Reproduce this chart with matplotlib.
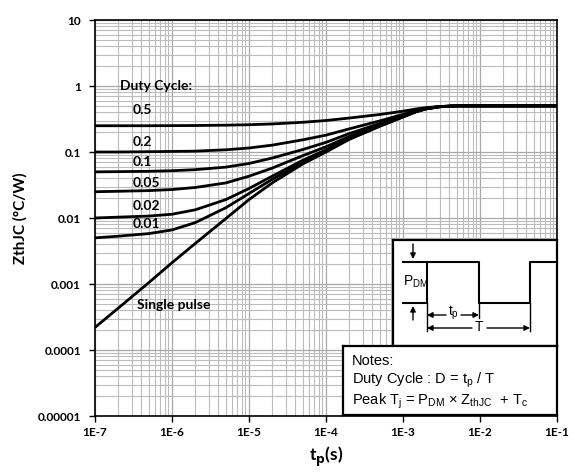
import numpy as np
import matplotlib.pyplot as plt
from matplotlib.ticker import LogLocator, FixedLocator, NullFormatter

# pulse width (s) sample points
tp = [1e-7, 2e-7, 5e-7, 1e-6, 2e-6, 5e-6, 1e-5, 2e-5, 5e-5, 1e-4,
      2e-4, 5e-4, 1e-3, 1.5e-3, 2e-3, 3e-3, 5e-3, 1e-2, 1e-1]

# ZthJC (C/W) for each duty cycle, read at the tp points above
z_d50 = [0.25, 0.25, 0.25, 0.251, 0.252, 0.255, 0.259, 0.266, 0.282, 0.30,
         0.327, 0.37, 0.415, 0.45, 0.47, 0.49, 0.50, 0.50, 0.50]
z_d20 = [0.10, 0.10, 0.101, 0.102, 0.103, 0.108, 0.115, 0.127, 0.153, 0.18,
         0.224, 0.296, 0.372, 0.428, 0.46, 0.488, 0.50, 0.50, 0.50]
z_d10 = [0.05, 0.0504, 0.051, 0.052, 0.054, 0.059, 0.067, 0.081, 0.109, 0.14,
         0.19, 0.27, 0.356, 0.42, 0.455, 0.487, 0.50, 0.50, 0.50]
z_d05 = [0.025, 0.0254, 0.026, 0.027, 0.029, 0.034, 0.043, 0.057, 0.088, 0.12,
         0.172, 0.258, 0.348, 0.415, 0.453, 0.486, 0.50, 0.50, 0.50]
z_d02 = [0.01, 0.0103, 0.0107, 0.0114, 0.0133, 0.019, 0.028, 0.043, 0.075, 0.108,
         0.162, 0.25, 0.343, 0.412, 0.451, 0.485, 0.50, 0.50, 0.50]
z_d01 = [0.005, 0.0053, 0.0058, 0.0066, 0.0085, 0.0143, 0.0235, 0.0385, 0.07, 0.104,
         0.158, 0.248, 0.34, 0.41, 0.45, 0.485, 0.50, 0.50, 0.50]
z_single = [2.2e-4, 4.3e-4, 1.05e-3, 2.1e-3, 4.1e-3, 9.8e-3, 0.019, 0.034, 0.066, 0.10,
            0.155, 0.245, 0.34, 0.41, 0.45, 0.485, 0.50, 0.50, 0.50]

curves = [z_d50, z_d20, z_d10, z_d05, z_d02, z_d01, z_single]

# curve labels and where they sit (data coords)
labels = ["0.5", "0.2", "0.1", "0.05", "0.02", "0.01"]
label_y = [0.43, 0.14, 0.071, 0.034, 0.015, 0.0081]

x_ticks = [1e-7, 1e-6, 1e-5, 1e-4, 1e-3, 1e-2, 1e-1]
x_ticklabels = ["1E-7", "1E-6", "1E-5", "1E-4", "1E-3", "1E-2", "1E-1"]
y_ticks = [1e-5, 1e-4, 1e-3, 1e-2, 1e-1, 1, 10]
y_ticklabels = ["0.00001", "0.0001", "0.001", "0.01", "0.1", "1", "10"]

W, H = 575, 476
fig = plt.figure(figsize=(W / 100, H / 100), dpi=100)
ax = fig.add_axes([95 / W, 1 - 416 / H, 462 / W, 396 / H])

for z in curves:
    ax.plot(tp, z, color="black", lw=2.0, solid_capstyle="butt", zorder=3)

ax.set_xscale("log")
ax.set_yscale("log")
ax.set_xlim(1e-7, 1e-1)
ax.set_ylim(1e-5, 10)

ax.xaxis.set_major_locator(FixedLocator(x_ticks))
ax.yaxis.set_major_locator(FixedLocator(y_ticks))
ax.xaxis.set_minor_locator(LogLocator(base=10, subs=np.arange(2, 10), numticks=20))
ax.yaxis.set_minor_locator(LogLocator(base=10, subs=np.arange(2, 10), numticks=20))
ax.xaxis.set_minor_formatter(NullFormatter())
ax.yaxis.set_minor_formatter(NullFormatter())

tick_font = dict(family="Lato", weight="bold", size=8.5)
ax.set_xticklabels(x_ticklabels, **tick_font)
ax.set_yticklabels(y_ticklabels, **tick_font)
ax.tick_params(which="major", direction="out", length=4, width=1, pad=6)
ax.tick_params(axis="x", which="major", pad=4)
ax.tick_params(which="minor", length=0)

ax.grid(which="major", color="#a8a8a8", lw=0.9)
ax.grid(which="minor", color="#bcbcbc", lw=0.8)
ax.set_axisbelow(True)
for s in ax.spines.values():
    s.set_linewidth(1.2)

ax.set_xlabel("t$_\\mathbf{p}$(s)", family="Lato", weight="bold", size=12.5, labelpad=5)
ax.set_ylabel("ZthJC (°C/W)", family="Lato", weight="bold", size=11, labelpad=7)

lab_font = dict(family="Lato", weight="bold", size=10)
ax.text(2.1e-7, 1.0, "Duty Cycle:", va="center", ha="left", **lab_font)
for lab, y in zip(labels, label_y):
    ax.text(3.1e-7, y, lab, va="center", ha="left", **lab_font)
ax.text(3.5e-7, 4.8e-4, "Single pulse", va="center", ha="left", **lab_font)

# pulse schematic box (pixel coords of the figure)
aw = fig.add_axes([393 / W, 1 - 346 / H, 164 / W, 106 / H], zorder=5)
aw.set_xlim(393, 557)
aw.set_ylim(346, 240)
aw.set_xticks([])
aw.set_yticks([])
for s in aw.spines.values():
    s.set_linewidth(1.6)

wave_x = [403, 427, 427, 479, 479, 530, 530, 557]
wave_y = [303, 303, 262, 262, 303, 303, 262, 262]
aw.plot(wave_x, wave_y, color="black", lw=1.5)
aw.plot([403, 427], [262, 262], color="black", lw=1.5)
for xv, y1 in [(427, 331), (479, 318), (530, 331)]:
    aw.plot([xv, xv], [303, y1], color="black", lw=1.0)

arr = dict(arrowstyle="-|>", color="black", lw=1.0, mutation_scale=8, shrinkA=0, shrinkB=0)
aw.annotate("", xy=(413, 259), xytext=(413, 244), arrowprops=arr)
aw.annotate("", xy=(413, 306), xytext=(413, 320), arrowprops=arr)
aw.annotate("", xy=(427, 315), xytext=(446, 315), arrowprops=arr)
aw.annotate("", xy=(479, 315), xytext=(461, 315), arrowprops=arr)
aw.annotate("", xy=(427, 328), xytext=(472, 328), arrowprops=arr)
aw.annotate("", xy=(530, 328), xytext=(487, 328), arrowprops=arr)

sch_font = dict(family="Liberation Sans", size=10)
aw.text(403, 282, "P$_{\\mathregular{DM}}$", va="center", ha="left", **sch_font)
aw.text(453, 313, "t$_{\\mathregular{p}}$", va="center", ha="center", **sch_font)
aw.text(479, 327, "T", va="center", ha="center", **sch_font)

# notes box
an = fig.add_axes([343 / W, 1 - 415 / H, 214 / W, 69 / H], zorder=6)
an.set_xticks([])
an.set_yticks([])
for s in an.spines.values():
    s.set_linewidth(1.6)
note_font = dict(family="Liberation Sans", size=10.5)
an.text(0.04, 0.78, "Notes:", transform=an.transAxes, va="center", **note_font)
an.text(0.04, 0.50, "Duty Cycle : D = t$_{\\mathregular{p}}$ / T",
        transform=an.transAxes, va="center", **note_font)
an.text(0.04, 0.20, "Peak T$_{\\mathregular{j}}$ = P$_{\\mathregular{DM}}$ × Z$_{\\mathregular{thJC}}$  + T$_{\\mathregular{c}}$",
        transform=an.transAxes, va="center", **note_font)

fig.savefig("out.png", dpi=100)
